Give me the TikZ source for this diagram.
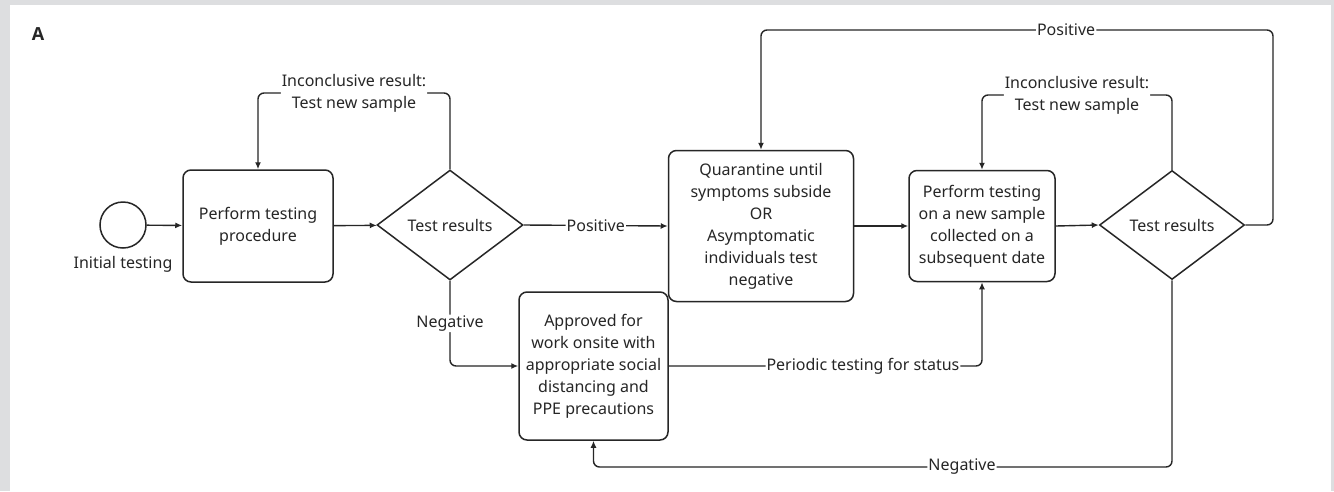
\documentclass[tikz,border=0pt]{standalone}
\usepackage{fontspec}
\setmainfont{Noto Sans}
\newfontfamily\headfont{Open Sans}
\usetikzlibrary{shapes.geometric,arrows.meta}
\definecolor{framegray}{HTML}{DDDEE0}
\definecolor{ink}{HTML}{262626}
\begin{document}
\begin{tikzpicture}[x=1pt,y=-1pt,
  every node/.style={font=\fontsize{16}{22}\selectfont, text=ink},
  box/.style={draw=ink, line width=1.5pt, rounded corners=8pt, align=center, inner sep=2pt},
  dia/.style={draw=ink, line width=1.5pt, diamond, inner sep=0pt, aspect=1.33},
  conn/.style={draw=ink, line width=1.4pt, rounded corners=6pt},
  arr/.style={conn, -{Latex[length=7pt,width=6pt]}},
  lbl/.style={fill=white, inner sep=1pt, align=center}]
\fill[framegray] (0,0) rectangle (1334,491);
\fill[white] (10,5) rectangle (1331,491);
\useasboundingbox (0,0) rectangle (1334,491);

\node[font=\headfont\bfseries\fontsize{18}{22}\selectfont] (lblA) at (38,34) {A};

\node[draw=ink, line width=1.5pt, circle, minimum size=46pt, inner sep=0pt] (start) at (123,225) {};
\node (initlbl) at (123,264) {Initial testing};

\node[box, minimum width=150pt, minimum height=112pt] (p1) at (258,226) {Perform testing\\procedure};
\node[dia, minimum width=146pt, minimum height=110pt] (d1) at (450,225) {Test results};
\node[box, minimum width=185pt, minimum height=151pt] (q) at (761,226) {Quarantine until\\symptoms subside\\OR\\Asymptomatic\\individuals test\\negative};
\node[box, minimum width=146pt, minimum height=111pt] (p2) at (982,226) {Perform testing\\on a new sample\\collected on a\\subsequent date};
\node[dia, minimum width=145pt, minimum height=109pt] (d2) at (1172,225) {Test results};
\node[box, minimum width=149pt, minimum height=148pt] (ap) at (593.5,366) {Approved for\\work onsite with\\appropriate social\\distancing and\\PPE precautions};

\coordinate (c1) at (450,93);
\coordinate (c2) at (1172,95);
\coordinate (c3) at (1273,225);
\coordinate (c4) at (1273,30);
\coordinate (c5) at (761,30);
\coordinate (c6) at (1172,467);
\coordinate (c7) at (593.5,467);
\coordinate (c8) at (450,366);
\coordinate (c9) at (982,366);

\draw[arr] (start) -- (p1);
\draw[arr] (p1) -- (d1);
\draw[arr] (d1.north) -- (c1) -- node[lbl] {Inconclusive result:\\Test new sample} (c1 -| p1.north) -- (p1.north);
\draw[arr] (d1.east) -- node[lbl] {Positive} (q.west);
\draw[arr] (d1.south) -- node[lbl] {Negative} (c8) -- (ap.west);
\draw[arr] (q.east) -- (p2.west);
\draw[arr] (p2.east) -- (d2.west);
\draw[arr] (d2.north) -- (c2) -- node[lbl] {Inconclusive result:\\Test new sample} (c2 -| p2.north) -- (p2.north);
\draw[arr] (d2.east) -- (c3) -- (c4) -- node[lbl, pos=0.404] {Positive} (c5) -- (q.north);
\draw[arr] (d2.south) -- (c6) -- node[lbl, pos=0.363] {Negative} (c7) -- (ap.south);
\draw[arr] (ap.east) -- node[lbl, pos=0.62] {Periodic testing for status} (c9) -- (p2.south);
\end{tikzpicture}
\end{document}
